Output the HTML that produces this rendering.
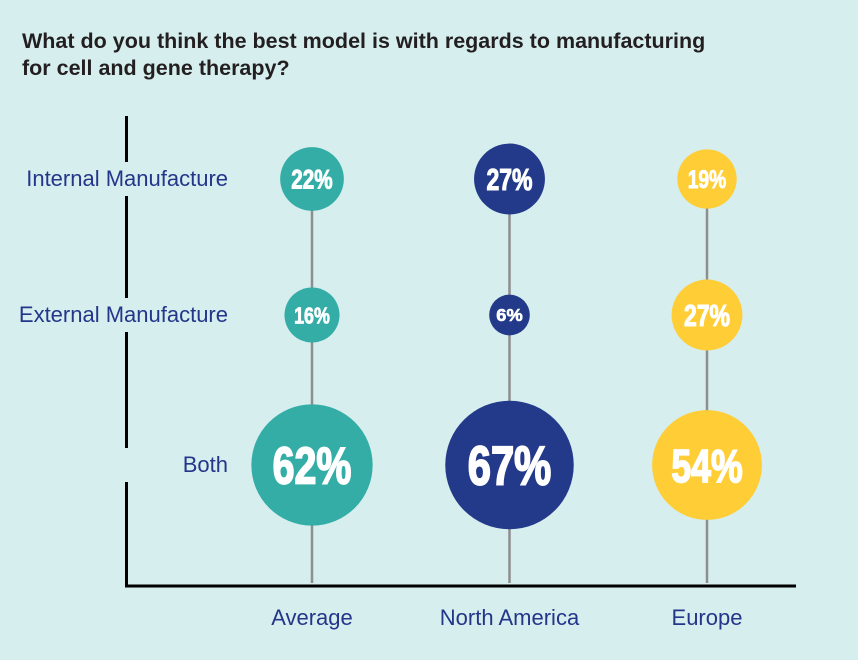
<!DOCTYPE html>
<html><head><meta charset="utf-8"><style>
html,body{margin:0;padding:0;background:#d6eeee;}
svg{display:block;font-family:"Liberation Sans",sans-serif;}
</style></head><body>
<svg id="chart" width="858" height="660" viewBox="0 0 858 660">
<rect width="858" height="660" fill="#d6eeee"/>
<text x="22" y="48" font-size="21.5" font-weight="bold" fill="#231f20">What do you think the best model is with regards to manufacturing<tspan x="22" y="75">for cell and gene therapy?</tspan></text>
<g id="axes"></g>
<g id="stems"></g>
<g id="bubbles"></g>
</svg>
<script>
const categories = ["Internal Manufacture", "External Manufacture", "Both"];
const regions = ["Average", "North America", "Europe"];
const averageValues = [22, 16, 62];
const northAmericaValues = [27, 6, 67];
const europeValues = [19, 27, 54];
const colors = ["#33ada6", "#223a89", "#ffcd35"];

const NS = "http://www.w3.org/2000/svg";
const gA = document.getElementById("axes"), gS = document.getElementById("stems"), gB = document.getElementById("bubbles");
function mk(tag, attrs, parent){const e=document.createElementNS(NS,tag);for(const k in attrs)e.setAttribute(k,attrs[k]);parent.appendChild(e);return e;}
const xPos = i => 312 + i*197.5;
const rowY = [179, 315, 465];
const yPos = j => rowY[j];
const rScale = v => 16 + 0.72*v;

let ax = mk("line",{x1:126.5,y1:116,x2:126.5,y2:587,stroke:"#000","stroke-width":3},gA);


let bx = mk("line",{x1:125,y1:586,x2:796,y2:586,stroke:"#000","stroke-width":3},gA);



categories.forEach((c,j)=>{
  const y=yPos(j);
  const bg=mk("rect",{x:15,y:y-17,width:220,height:34,fill:"#d6eeee"},gA);
  
  
  const t=mk("text",{x:228,y:y+7,"text-anchor":"end","font-size":22,fill:"#24368a"},gA);
  t.textContent=c;
  
  
});
regions.forEach((r,i)=>{
  const t=mk("text",{x:xPos(i),y:625,"text-anchor":"middle","font-size":22,fill:"#24368a"},gA);
  t.textContent=r;
  
  
});

const series=[averageValues,northAmericaValues,europeValues];
series.forEach((vals,i)=>{
  const x=xPos(i);
  const st=mk("line",{x1:x,y1:yPos(0),x2:x,y2:583,stroke:"#8e8e8e","stroke-width":2.5},gS);
  
  
  vals.forEach((v,j)=>{
    const r=rScale(v), y=yPos(j);
    const c=mk("circle",{cx:x,cy:y,r:r,fill:colors[i]},gB);
    
    
    const fs=r*0.85;
    const t=mk("text",{x:x,y:y+fs*0.36,"text-anchor":"middle","font-size":fs,"font-weight":"bold",fill:"#fff",stroke:"#fff","stroke-width":r*0.03,textLength:r*1.3,lengthAdjust:"spacingAndGlyphs"},gB);
    t.textContent=v+"%";
    
    
  });
});
</script>
</body></html>
